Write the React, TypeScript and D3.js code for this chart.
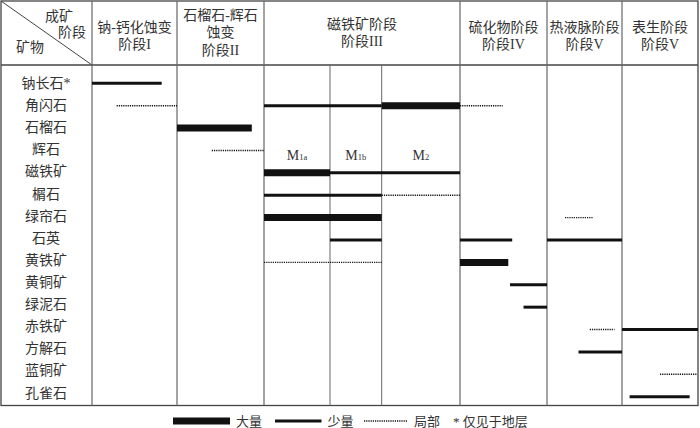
import React from "react";
import { scaleLinear, scalePoint } from "d3";

// minerals (rows, top to bottom)
const minerals = [
  "钠长石*", "角闪石", "石榴石", "辉石", "磁铁矿", "榍石", "绿帘石", "石英",
  "黄铁矿", "黄铜矿", "绿泥石", "赤铁矿", "方解石", "蓝铜矿", "孔雀石",
];

// stage headers
const stages = [
  { lines: ["钠-钙化蚀变", "阶段I"], from: 0, to: 1 },
  { lines: ["石榴石-辉石", "蚀变", "阶段II"], from: 1, to: 2 },
  { lines: ["磁铁矿阶段", "阶段III"], from: 2, to: 5 },
  { lines: ["硫化物阶段", "阶段IV"], from: 5, to: 6 },
  { lines: ["热液脉阶段", "阶段V"], from: 6, to: 7 },
  { lines: ["表生阶段", "阶段V"], from: 7, to: 8 },
];

// sub-phases of stage III
const subPhases = [
  { main: "M", sub: "1a", from: 2, to: 3 },
  { main: "M", sub: "1b", from: 3, to: 4 },
  { main: "M", sub: "2", from: 4, to: 5 },
];

// phase boundaries (I, II, M1a, M1b, M2, IV, V, VI) and their pixel widths
const phaseEdges = [0, 1, 2, 3, 4, 5, 6, 7, 8];
const phasePx = [92, 177, 264, 330, 381.7, 460, 547, 622, 698];

// bars: mineral, start, end (phase units), amount
type Amount = "major" | "minor" | "local";
const bars: [string, number, number, Amount][] = [
  ["钠长石*", 0, 0.82, "minor"],
  ["角闪石", 0.29, 1, "local"],
  ["角闪石", 2, 4, "minor"],
  ["角闪石", 4, 5, "major"],
  ["角闪石", 5, 5.49, "local"],
  ["石榴石", 1, 1.86, "major"],
  ["辉石", 1.4, 2, "local"],
  ["磁铁矿", 2, 3, "major"],
  ["磁铁矿", 3, 5, "minor"],
  ["榍石", 2, 4, "minor"],
  ["榍石", 4, 5, "local"],
  ["绿帘石", 2, 4, "major"],
  ["绿帘石", 6.24, 6.61, "local"],
  ["石英", 3, 4, "minor"],
  ["石英", 5, 5.6, "minor"],
  ["石英", 6, 7, "minor"],
  ["黄铁矿", 2, 4, "local"],
  ["黄铁矿", 5, 5.555, "major"],
  ["黄铜矿", 5.575, 6, "minor"],
  ["绿泥石", 5.73, 6, "minor"],
  ["赤铁矿", 6.57, 6.9, "local"],
  ["赤铁矿", 7, 8, "minor"],
  ["方解石", 6.42, 7, "minor"],
  ["蓝铜矿", 7.5, 7.98, "local"],
  ["孔雀石", 7.1, 7.89, "minor"],
];

const legendItems: [Amount, string][] = [
  ["major", "大量"],
  ["minor", "少量"],
  ["local", "局部"],
];

const FONT = "'Liberation Serif', 'Noto Sans CJK SC', serif";
const TEXT = "#333";
const GRID = "#666";

const styleOf = (a: Amount) =>
  a === "major"
    ? { strokeWidth: 7, strokeDasharray: undefined }
    : a === "minor"
    ? { strokeWidth: 3, strokeDasharray: undefined }
    : { strokeWidth: 1.4, strokeDasharray: "1.2 1" };

export default function App() {
  const width = 700;
  const height = 428;
  const top = 1;
  const headerBottom = 65;
  const bottom = 405.5;
  const left = 1;
  const right = 698;

  const x = scaleLinear().domain(phaseEdges).range(phasePx);
  const yLine = scalePoint<string>().domain(minerals).range([83.3, 396.7]);
  const yLabel = scalePoint<string>().domain(minerals).range([83.5, 393]);

  const fullLines = [0, 1, 2, 5, 6, 7];
  const subLines = [3, 4];

  return (
    <svg
      width={width}
      height={height}
      style={{ position: "absolute", left: 0, top: 0, background: "#fff" }}
      fontFamily={FONT}
    >
      {/* frame */}
      <rect x={left} y={top} width={right - left} height={bottom - top} fill="none" stroke="#444" strokeWidth={1.3} />
      <line x1={left} x2={right} y1={headerBottom} y2={headerBottom} stroke="#444" strokeWidth={1.3} />
      {fullLines.map((d) => (
        <line key={"f" + d} x1={x(d)} x2={x(d)} y1={top} y2={bottom} stroke={GRID} strokeWidth={1.2} />
      ))}
      {subLines.map((d) => (
        <line key={"s" + d} x1={x(d)} x2={x(d)} y1={headerBottom} y2={bottom} stroke={GRID} strokeWidth={1} />
      ))}

      {/* corner cell */}
      <line x1={left} y1={top} x2={x(0)} y2={headerBottom} stroke="#444" strokeWidth={1} />
      <g fontSize={14} fill={TEXT} dominantBaseline="central" textAnchor="middle">
        <text x={59} y={16}>成矿</text>
        <text x={72} y={32}>阶段</text>
        <text x={30} y={47}>矿物</text>
      </g>

      {/* stage headers */}
      <g fontSize={14} fill={TEXT} textAnchor="middle" dominantBaseline="central">
        {stages.map((s, i) => {
          const cx = (x(s.from) + x(s.to)) / 2;
          const step = 17.5;
          const y0 = s.lines.length === 3 ? 15 : i === 2 ? 24 : 27;
          return s.lines.map((t, j) => (
            <text key={i + "-" + j} x={cx} y={y0 + j * step}>{t}</text>
          ));
        })}
      </g>

      {/* sub-phase labels */}
      <g fill={TEXT} textAnchor="middle" dominantBaseline="central">
        {subPhases.map((p) => (
          <text key={p.sub} x={(x(p.from) + x(p.to)) / 2} y={155} fontSize={14}>
            {p.main}
            <tspan fontSize={8.5} dy={1.5}>{p.sub}</tspan>
          </text>
        ))}
      </g>

      {/* mineral labels */}
      <g fontSize={14} fill={TEXT} textAnchor="middle" dominantBaseline="central">
        {minerals.map((m) => (
          <text key={m} x={46} y={yLabel(m)}>{m}</text>
        ))}
      </g>

      {/* bars */}
      <g stroke="#111">
        {bars.map(([m, a, b, amt], i) => {
          const st = styleOf(amt);
          return (
            <line
              key={i}
              x1={x(a)}
              x2={x(b)}
              y1={yLine(m)}
              y2={yLine(m)}
              strokeWidth={st.strokeWidth}
              strokeDasharray={st.strokeDasharray}
            />
          );
        })}
      </g>

      {/* legend */}
      <g fontSize={13} fill={TEXT} dominantBaseline="central">
        {legendItems.map(([amt, label], i) => {
          const st = styleOf(amt);
          const x0 = [173, 275, 364][i];
          const x1 = [230, 321.5, 408][i];
          return (
            <g key={amt}>
              <line x1={x0} x2={x1} y1={421} y2={421} stroke="#111" strokeWidth={st.strokeWidth} strokeDasharray={st.strokeDasharray} />
              <text x={x1 + 6} y={421}>{label}</text>
            </g>
          );
        })}
        <text x={453} y={421}>* 仅见于地层</text>
      </g>
    </svg>
  );
}
